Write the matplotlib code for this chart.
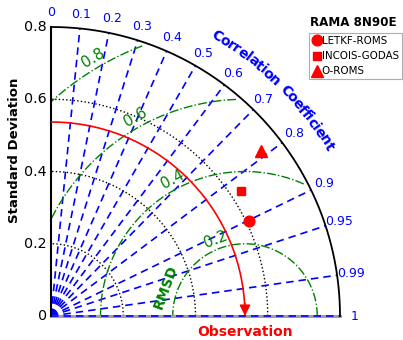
import numpy as np
import matplotlib
matplotlib.use("Agg")
import matplotlib.pyplot as plt
from matplotlib.lines import Line2D

# Reference (observed) standard deviation
obs_std = 0.537

# Model statistics: standard deviation and correlation with observation
models = ["LETKF-ROMS", "INCOIS-GODAS", "O-ROMS"]
model_std = [0.609, 0.630, 0.739]
model_corr = [0.901, 0.835, 0.786]
model_markers = ["o", "s", "^"]
model_msize = [7.7, 6.2, 8.4]

# Grid levels
corr_ticks = [0, 0.1, 0.2, 0.3, 0.4, 0.5, 0.6, 0.7, 0.8, 0.9, 0.95, 0.99, 1]
corr_tick_labels = ["0", "0.1", "0.2", "0.3", "0.4", "0.5", "0.6", "0.7", "0.8",
                    "0.9", "0.95", "0.99", "1"]
std_ticks = [0, 0.2, 0.4, 0.6, 0.8]
std_arcs = [0.2, 0.4, 0.6]
rmsd_levels = [0.2, 0.4, 0.6, 0.8]
rmsd_label_angles = [111.0, 117.9, 119.0, 120.5]
smax = 0.8

fig = plt.figure(figsize=(4.03, 3.40), dpi=100)
ax = fig.add_axes([51 / 403, 24 / 340, 289 / 403, 289 / 340])
ax.set_xlim(0, smax)
ax.set_ylim(0, smax)
ax.set_aspect("equal")
ax.axis("off")

theta = np.linspace(0, np.pi / 2, 400)

# Left axis and outer boundary
ax.plot([0, 0], [0, smax], color="black", lw=1.5, clip_on=False, zorder=5)
ax.plot([0, smax], [0, 0], color="#a0a0a0", lw=2.2, clip_on=False, zorder=4)
ax.plot(smax * np.cos(theta), smax * np.sin(theta), color="black", lw=1.3,
        clip_on=False, zorder=5)

# Std ticks on the left axis
for s in std_ticks:
    ax.text(-0.011, s, f"{s:g}", ha="right", va="center", fontsize=10.3, color="black")
ax.text(-0.1, 0.46, "Standard Deviation", rotation=90, ha="center", va="center",
        fontsize=9.5, fontweight="bold")

# Std arcs
for s in std_arcs:
    ax.plot(s * np.cos(theta), s * np.sin(theta), color="black", ls=":", lw=1.0, zorder=2)

# Correlation radial lines and tick labels
for c, lab in zip(corr_ticks, corr_tick_labels):
    a = np.arccos(c)
    ax.plot([0, smax * np.cos(a)], [0, smax * np.sin(a)], color="blue", lw=1.2,
            ls=(0, (4.5, 3)), zorder=4 if c == 1 else 2, clip_on=False)
    ax.text(0.84 * np.cos(a), 0.84 * np.sin(a), lab, ha="center", va="center",
            fontsize=9, color="blue")

# Curved "Correlation Coefficient" title
title = "Correlation Coefficient"
r_lab = 0.9
a_start, a_end = np.deg2rad(60.2), np.deg2rad(30.8)
fig.canvas.draw()
renderer = fig.canvas.get_renderer()
fs = 10
widths = []
for ch in title:
    t = ax.text(0, 0, ch if ch != " " else "n", fontsize=fs, fontweight="bold")
    w = t.get_window_extent(renderer).width
    widths.append(w * (0.6 if ch == " " else 1.0))
    t.remove()
widths = np.array(widths)
centers = np.cumsum(widths) - widths / 2
frac = centers / widths.sum()
for ch, f in zip(title, frac):
    a = a_start + (a_end - a_start) * f
    ax.text(r_lab * np.cos(a), r_lab * np.sin(a), ch, rotation=np.rad2deg(a) - 90,
            ha="center", va="center", fontsize=fs, fontweight="bold", color="blue",
            rotation_mode="anchor", clip_on=False)

# RMSD contours centred on observation
for r, lab_ang in zip(rmsd_levels, rmsd_label_angles):
    ph = np.linspace(0, np.pi, 800)
    x = obs_std + r * np.cos(ph)
    y = r * np.sin(ph)
    inside = (np.hypot(x, y) <= 0.79) & (x >= 0)
    x = np.where(inside, x, np.nan)
    y = np.where(inside, y, np.nan)
    ax.plot(x, y, color="green", ls="-.", lw=1.0, zorder=3)
    ang = np.deg2rad(lab_ang)
    rr = r + 0.028
    ax.text(obs_std + rr * np.cos(ang), rr * np.sin(ang), f"{r:g}",
            rotation=lab_ang - 90, ha="center", va="center",
            fontsize=11, color="green", rotation_mode="anchor")
ang = np.deg2rad(160)
ax.text(obs_std + 0.232 * np.cos(ang), 0.232 * np.sin(ang), "RMSD",
        rotation=np.rad2deg(ang) - 90, ha="center", va="center", fontsize=10,
        fontweight="bold", color="green", rotation_mode="anchor")

# Observation arc with arrow
ax.plot(obs_std * np.cos(theta[3:]), obs_std * np.sin(theta[3:]), color="red", lw=1.2,
        zorder=6)
ax.annotate("", xy=(obs_std, 0), xytext=(obs_std, 0.035),
            arrowprops=dict(arrowstyle="-|>", color="red", lw=1.2, mutation_scale=16,
                            shrinkA=0, shrinkB=0), zorder=6, annotation_clip=False)
ax.text(obs_std, -0.045, "Observation", ha="center", va="center", fontsize=10,
        fontweight="bold", color="red", clip_on=False)

# Model points
handles = []
for name, s, c, m, ms in zip(models, model_std, model_corr, model_markers, model_msize):
    a = np.arccos(c)
    ax.plot(s * np.cos(a), s * np.sin(a), marker=m, color="red", ms=ms, ls="none",
            zorder=7, clip_on=False)
    handles.append(Line2D([], [], marker=m, color="red", ms=ms, ls="none", label=name))

fig.text(310 / 403, 1 - 23 / 340, "RAMA 8N90E", ha="left", va="center", fontsize=8.6,
         fontweight="bold")
leg = fig.legend(handles=handles, loc="upper left", bbox_to_anchor=(309 / 403, 1 - 33 / 340),
                 fontsize=7.4, frameon=True, fancybox=False, borderpad=0.3,
                 labelspacing=0.5, handlelength=0.9, handletextpad=0.05,
                 borderaxespad=0, edgecolor="#999999")
leg.get_frame().set_linewidth(0.8)

fig.savefig("out.png", dpi=100)
